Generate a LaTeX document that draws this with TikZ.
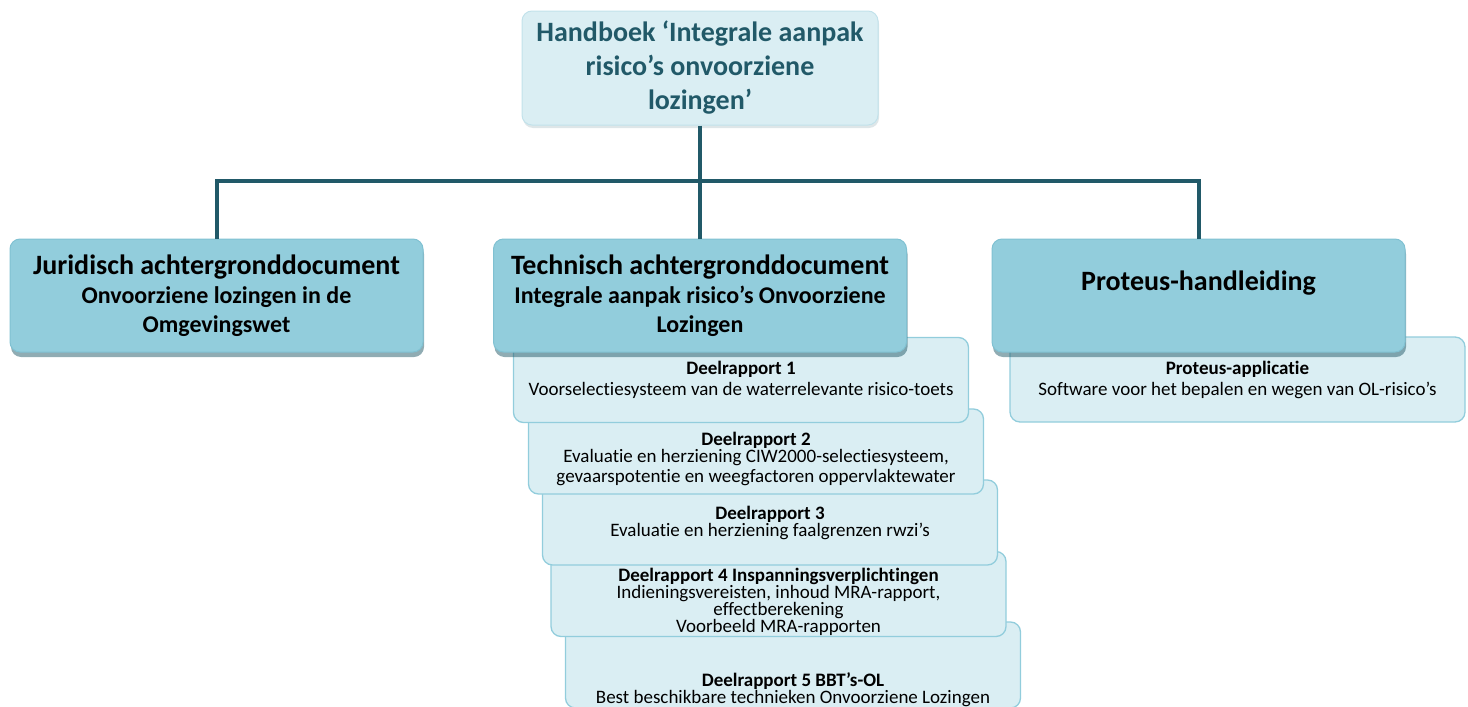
\documentclass[tikz,border=0pt]{standalone}
\usepackage{fontspec}
\setmainfont{Carlito}[Ligatures={NoCommon}]
\usetikzlibrary{shadows}
\definecolor{darkteal}{HTML}{215968}
\definecolor{midblue}{HTML}{92CDDC}
\definecolor{midedge}{HTML}{80C1D2}
\definecolor{lightblue}{HTML}{DAEEF3}
\definecolor{lightedge}{HTML}{C2E2EB}
\definecolor{shadowc}{HTML}{215968}
\tikzset{
  topbox/.style={rounded corners=10pt, fill=lightblue, draw=lightedge, line width=1pt,
    minimum width=356pt, minimum height=114pt, align=center, inner sep=0pt,
    text=darkteal, font=\fontsize{28}{34}\selectfont\bfseries,
    drop shadow={opacity=0.15, shadow xshift=1pt, shadow yshift=-3pt, fill=shadowc}},
  mainbox/.style={rounded corners=10pt, fill=midblue, draw=midedge, line width=1pt,
    minimum width=413pt, minimum height=113pt, align=center, inner sep=0pt,
    text=black, font=\fontsize{24}{29}\selectfont\bfseries,
    drop shadow={opacity=0.5, shadow xshift=1pt, shadow yshift=-5pt, fill=shadowc}},
  subbox/.style={rounded corners=10pt, fill=lightblue, draw=midblue, line width=1.3pt,
    minimum width=455pt, minimum height=85pt, align=center, inner sep=0pt,
    text=black, font=\fontsize{19}{17}\selectfont},
  subtext/.style={align=center, inner sep=0pt, text=black, font=\fontsize{19}{17}\selectfont},
  link/.style={draw=darkteal, line width=4pt},
}
\newcommand{\bigtitle}[1]{{\fontsize{28}{30}\selectfont #1}}
\begin{document}
\begin{tikzpicture}[x=1pt,y=-1pt]
\useasboundingbox (0,0) rectangle (1468,707);

% sub reports (drawn back to front)
\node[subbox, minimum height=86pt] (dr5) at (793,665) {};
\node[subtext] (dr5t) at (793,690) {\textbf{Deelrapport 5 BBT’s-OL}\\Best beschikbare technieken Onvoorziene Lozingen};
\node[subbox] (dr4) at (778.5,594) {};
\node[subtext] (dr4t) at (778.5,602) {\textbf{Deelrapport 4 Inspanningsverplichtingen}\\Indieningsvereisten, inhoud MRA-rapport,\\effectberekening\\Voorbeeld MRA-rapporten};
\node[subbox] (dr3) at (770,522.5) {\textbf{Deelrapport 3}\\Evaluatie en herziening faalgrenzen rwzi’s};
\node[subbox] (dr2) at (756,451.5) {};
\node[subtext] (dr2t) at (756,459) {\textbf{Deelrapport 2}\\Evaluatie en herziening CIW2000-selectiesysteem,\\[3pt]gevaarspotentie en weegfactoren oppervlaktewater};
\node[subbox] (dr1) at (741,380) {\textbf{Deelrapport 1}\\[4pt]Voorselectiesysteem van de waterrelevante risico-toets};
\node[subbox] (app) at (1237.5,379.5) {\textbf{Proteus-applicatie}\\[4pt]Software voor het bepalen en wegen van OL-risico’s};

% main boxes
\node[topbox] (hand) at (700,68) {Handboek ‘Integrale aanpak\\risico’s onvoorziene\\lozingen’};
\node[mainbox] (jur) at (216.5,295.5) {\bigtitle{Juridisch achtergronddocument}\\Onvoorziene lozingen in de\\Omgevingswet};
\node[mainbox] (tech) at (700,295.5) {\bigtitle{Technisch achtergronddocument}\\Integrale aanpak risico’s Onvoorziene\\Lozingen};
\node[mainbox] (pro) at (1198.5,295.5) {\bigtitle{Proteus-handleiding}\\[1pt]\mbox{}};

% connectors
\coordinate (bus) at (700,181);
\draw[link] (hand.south) -- (tech.north);
\draw[link] (jur.north) -- (jur.north |- bus) -- (pro.north |- bus) -- (pro.north);
\end{tikzpicture}
\end{document}
